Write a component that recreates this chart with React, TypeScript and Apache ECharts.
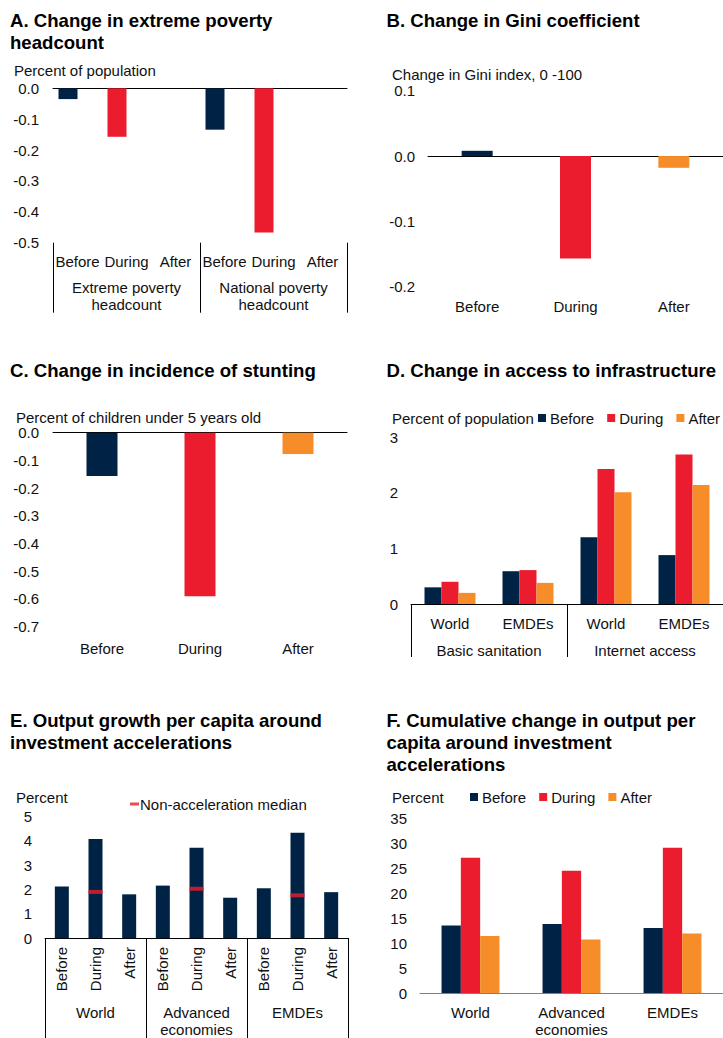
import React, { useEffect, useRef } from "react";
import * as echarts from "echarts";

// ---------- Data ----------
const periods = ["Before", "During", "After"];

const aGroups = ["Extreme poverty\nheadcount", "National poverty\nheadcount"];
const aValues = [-0.035, -0.157, 0, -0.134, -0.467, 0];

const bValues = [0.008, -0.157, -0.018];

const cValues = [-0.156, -0.59, -0.077];

const dGroups = ["Basic sanitation", "Internet access"];
const dRegions = ["World", "EMDEs"];
const dBefore = [0.3, 0.59, 1.2, 0.88];
const dDuring = [0.4, 0.61, 2.43, 2.69];
const dAfter = [0.2, 0.38, 2.01, 2.14];

const eGroups = ["World", "Advanced\neconomies", "EMDEs"];
const eValues = [2.12, 4.08, 1.8, 2.16, 3.72, 1.66, 2.05, 4.34, 1.89];
const eMedian = [null, 1.9, null, null, 2.03, null, null, 1.76, null];

const fCats = ["World", "Advanced\neconomies", "EMDEs"];
const fBefore = [13.5, 13.8, 13.0];
const fDuring = [27.1, 24.5, 29.1];
const fAfter = [11.4, 10.7, 11.9];

// ---------- Styles ----------
const NAVY = "#002345";
const RED = "#EB1C2D";
const ORANGE = "#F78D28";
const periodColors = [NAVY, RED, ORANGE];
const FONT = '"Liberation Sans", Arial, sans-serif';
const TXT = "#111";
const FS = 15;

const crossKeys = (groups: string[], items: string[]) =>
  groups.flatMap((g) => items.map((it) => g + "|" + it));
const lastPart = (v: string) => v.split("|").pop() as string;

const aCats = crossKeys(aGroups, periods);
const dCats = crossKeys(dGroups, dRegions);
const eCats = crossKeys(eGroups, periods);

export default function App() {
  const ref = useRef<HTMLDivElement>(null);

  useEffect(() => {
    document.body.style.margin = "0";
    if (!ref.current) return;
    const chart = echarts.init(ref.current, undefined, { renderer: "svg" });

    const labelStyle = { fontSize: FS, color: TXT, fontFamily: FONT };
    const yAxisBase = (gridIndex: number, min: number, max: number, interval: number, dec: number, margin: number) => ({
      type: "value",
      gridIndex,
      min,
      max,
      interval,
      axisLine: { show: false },
      axisTick: { show: false },
      splitLine: { show: false },
      axisLabel: {
        ...labelStyle,
        margin,
        formatter: (v: number) => v.toFixed(dec),
      },
    });
    const barAxis = (gridIndex: number, data: string[], color = "#000") => ({
      type: "category",
      gridIndex,
      data,
      position: "bottom",
      axisLine: { show: true, onZero: true, lineStyle: { color, width: 1 } },
      axisTick: { show: false },
      axisLabel: { show: false },
    });
    const labelAxis = (gridIndex: number, data: string[], margin: number, extra: any = {}) => ({
      type: "category",
      gridIndex,
      data,
      position: "bottom",
      axisLine: { show: false, onZero: false },
      axisTick: { show: false },
      axisLabel: {
        ...labelStyle,
        interval: 0,
        margin,
        lineHeight: 17,
        formatter: (v: string) => lastPart(v),
        ...extra,
      },
    });
    const groupAxis = (gridIndex: number, data: string[], tickLen: number, margin: number, color = "#000") => ({
      type: "category",
      gridIndex,
      data,
      position: "bottom",
      axisLine: { show: false, onZero: false },
      axisTick: { show: true, interval: 0, length: tickLen, lineStyle: { color, width: 1 } },
      axisLabel: { ...labelStyle, interval: 0, margin, lineHeight: 17 },
    });

    const titleBase = (text: string, left: number, top: number) => ({
      text,
      left,
      top,
      padding: 0,
      textStyle: { fontSize: 18.6, fontWeight: "bold", color: "#000", fontFamily: FONT, lineHeight: 22 },
    });

    const note = (text: string, x: number, y: number) => ({
      type: "text",
      x,
      y,
      style: { text, fontSize: FS, fontFamily: FONT, fill: TXT, verticalAlign: "middle" },
    });

    const legendBase = (left: number, top: number, data: string[], w: number, h: number, textPad = 0) => ({
      left,
      top,
      padding: 0,
      itemWidth: w,
      itemHeight: h,
      itemGap: 13,
      icon: "rect",
      selectedMode: false,
      data,
      textStyle: { ...labelStyle, padding: [0, 0, 0, textPad] },
    });

    const option: any = {
      animation: false,
      backgroundColor: "#fff",
      title: [
        titleBase("A. Change in extreme poverty\nheadcount", 10, 9),
        titleBase("B. Change in Gini coefficient", 386.5, 9),
        titleBase("C. Change in incidence of stunting", 10, 359),
        titleBase("D. Change in access to infrastructure", 386.5, 359),
        titleBase("E. Output growth per capita around\ninvestment accelerations", 10, 709),
        titleBase("F. Cumulative change in output per\ncapita around investment\naccelerations", 386.5, 709),
      ],
      graphic: [
        note("Percent of population", 14, 70),
        note("Change in Gini index, 0 -100", 392, 74),
        note("Percent of children under 5 years old", 16, 417),
        note("Percent of population", 392, 418),
        note("Percent", 16, 797),
        note("Percent", 392, 797),
      ],
      legend: [
        legendBase(538, 410.5, ["Before", "During", "After"], 8, 8, -1),
        legendBase(130, 796.5, ["Non-acceleration median"], 9, 3, -4),
        legendBase(470, 789.5, ["Before", "During", "After"], 8, 8, -1),
      ],
      grid: [
        { left: 53, top: 88.3, width: 294, height: 154.4 },
        { left: 428, top: 90.7, width: 295, height: 196 },
        { left: 53, top: 432.7, width: 294, height: 194 },
        { left: 411, top: 437.3, width: 312, height: 166.7 },
        { left: 45, top: 816.7, width: 303, height: 123.3 },
        { left: 420, top: 818.3, width: 303, height: 175 },
      ],
      xAxis: [
        barAxis(0, aCats), // 0
        labelAxis(0, aCats, 10), // 1
        groupAxis(0, aGroups, 70, 36), // 2
        barAxis(1, periods), // 3
        labelAxis(1, periods, 11), // 4
        barAxis(2, periods), // 5
        labelAxis(2, periods, 13), // 6
        { ...labelAxis(3, dCats, 11), axisLine: { show: true, onZero: false, lineStyle: { color: "#000" } } }, // 7
        groupAxis(3, dGroups, 53, 37.5), // 8
        {
          ...labelAxis(4, eCats, 9, { rotate: 90 }),
          axisLine: { show: true, onZero: false, lineStyle: { color: "#000" } },
        }, // 9
        groupAxis(4, eGroups, 100, 66), // 10
        { ...labelAxis(5, fCats, 11), axisLine: { show: true, onZero: false, lineStyle: { color: "#808080" } } }, // 11
      ],
      yAxis: [
        yAxisBase(0, -0.5, 0, 0.1, 1, 14),
        yAxisBase(1, -0.2, 0.1, 0.1, 1, 13),
        yAxisBase(2, -0.7, 0, 0.1, 1, 14),
        yAxisBase(3, 0, 3, 1, 0, 13),
        yAxisBase(4, 0, 5, 1, 0, 13),
        yAxisBase(5, 0, 35, 5, 0, 13),
      ],
      series: [
        // A
        {
          name: "A",
          type: "bar",
          xAxisIndex: 0,
          yAxisIndex: 0,
          barWidth: 19,
          barGap: "0%",
          data: aValues.map((v, i) => ({ value: v, itemStyle: { color: periodColors[i % 3] } })),
        },
        {
          name: "A-spacer",
          type: "bar",
          xAxisIndex: 0,
          yAxisIndex: 0,
          barWidth: 19,
          barGap: "0%",
          data: aValues.map(() => null),
        },
        // B
        {
          name: "B",
          type: "bar",
          xAxisIndex: 3,
          yAxisIndex: 1,
          barWidth: 31,
          data: bValues.map((v, i) => ({ value: v, itemStyle: { color: periodColors[i] } })),
        },
        // C
        {
          name: "C",
          type: "bar",
          xAxisIndex: 5,
          yAxisIndex: 2,
          barWidth: 31,
          data: cValues.map((v, i) => ({ value: v, itemStyle: { color: periodColors[i] } })),
        },
        // D
        { name: "Before", type: "bar", xAxisIndex: 7, yAxisIndex: 3, barWidth: 17, barGap: "0%", itemStyle: { color: NAVY }, data: dBefore },
        { name: "During", type: "bar", xAxisIndex: 7, yAxisIndex: 3, barWidth: 17, barGap: "0%", itemStyle: { color: RED }, data: dDuring },
        { name: "After", type: "bar", xAxisIndex: 7, yAxisIndex: 3, barWidth: 17, barGap: "0%", itemStyle: { color: ORANGE }, data: dAfter },
        // E
        { name: "E", type: "bar", xAxisIndex: 9, yAxisIndex: 4, barWidth: 14, itemStyle: { color: NAVY }, data: eValues },
        {
          name: "Non-acceleration median",
          type: "scatter",
          xAxisIndex: 9,
          yAxisIndex: 4,
          symbol: "rect",
          symbolSize: [14, 4],
          itemStyle: { color: RED },
          data: eMedian,
          z: 5,
        },
        // F
        { name: "Before", type: "bar", xAxisIndex: 11, yAxisIndex: 5, barWidth: 19.3, barGap: "0%", itemStyle: { color: NAVY }, data: fBefore },
        { name: "During", type: "bar", xAxisIndex: 11, yAxisIndex: 5, barWidth: 19.3, barGap: "0%", itemStyle: { color: RED }, data: fDuring },
        { name: "After", type: "bar", xAxisIndex: 11, yAxisIndex: 5, barWidth: 19.3, barGap: "0%", itemStyle: { color: ORANGE }, data: fAfter },
      ],
    };

    chart.setOption(option);
    return () => chart.dispose();
  }, []);

  return <div ref={ref} style={{ width: 723, height: 1038 }} />;
}
